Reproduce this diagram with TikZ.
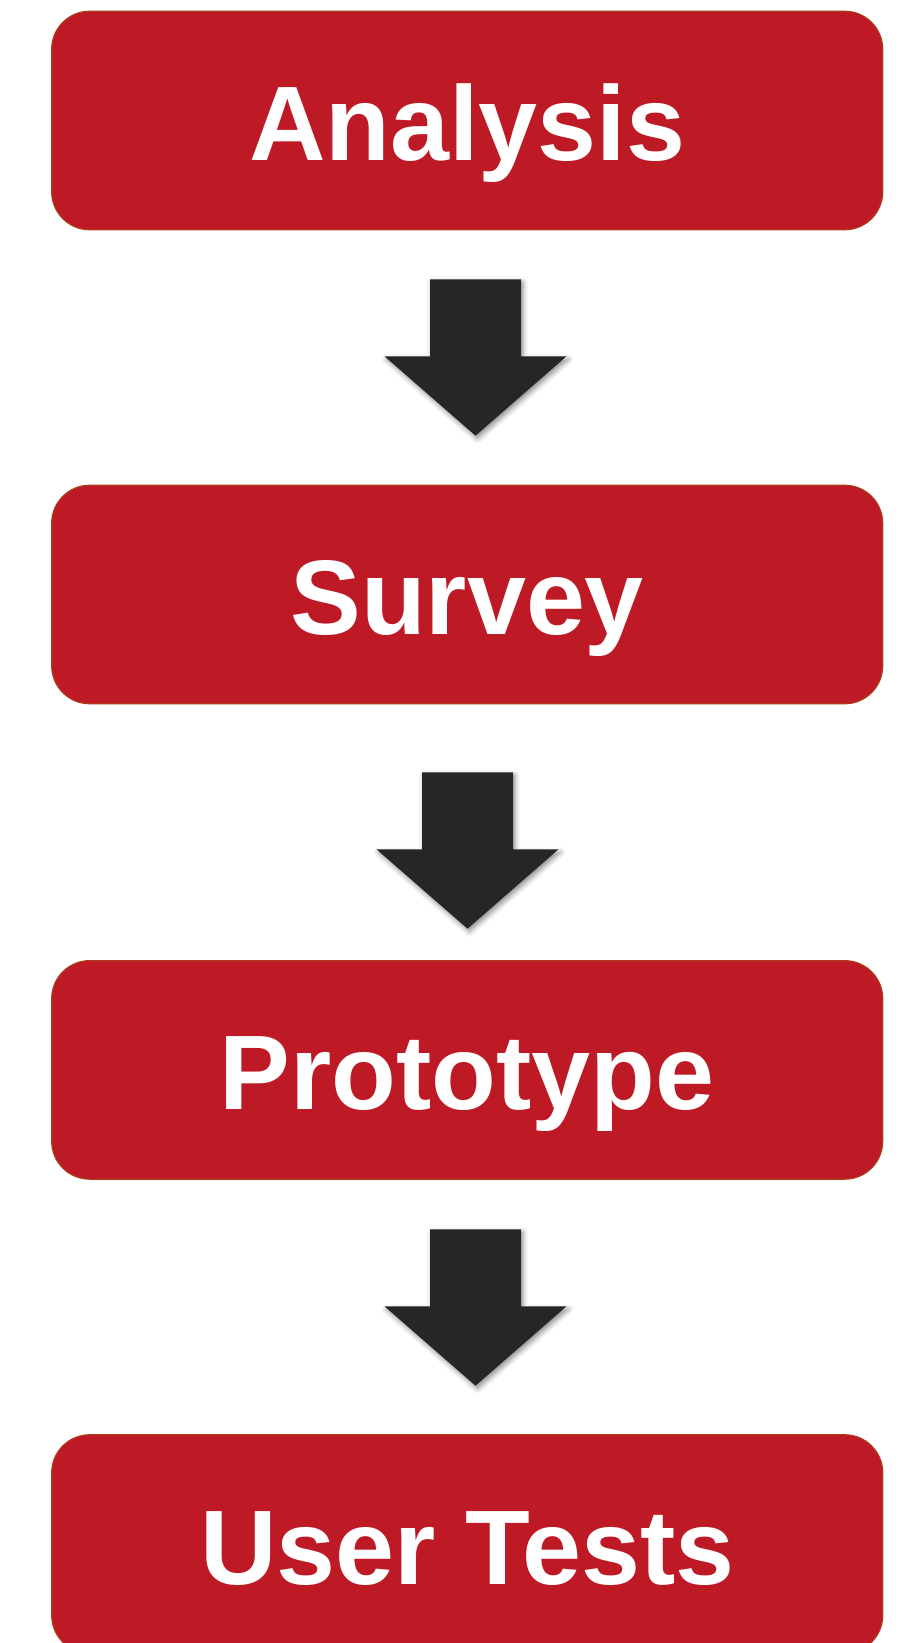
\documentclass[tikz,border=0pt]{standalone}
\usepackage{fontspec}
\setmainfont{Liberation Sans}
\usetikzlibrary{shadows.blur}
\definecolor{boxred}{RGB}{190,26,38}
\definecolor{boxedge}{RGB}{172,58,26}
\definecolor{arrowgray}{RGB}{38,38,38}
\begin{document}
\begin{tikzpicture}[x=1pt,y=-1pt,
  stagebox/.style={rectangle, rounded corners=38pt, fill=boxred, draw=boxedge,
    line width=1.2pt, minimum width=831pt, minimum height=218.5pt, inner sep=0pt,
    text=white, font=\fontsize{106}{118}\selectfont\bfseries,
    text height=80pt, text depth=0pt},
  blockarrow/.style={fill=arrowgray,
    blur shadow={shadow xshift=2pt, shadow yshift=-3pt,
      shadow blur radius=5pt, shadow opacity=45}},
  pics/downarrow/.style={code={
    \path[blockarrow] (-45.5,0) -- (45.5,0) -- (45.5,77) -- (91,77)
      -- (0,156.4) -- (-91,77) -- (-45.5,77) -- cycle;}}
]
\path[use as bounding box, clip] (0,0) rectangle (905,1643);

% process stages
\node[stagebox] (analysis)  at (467.2,120.5)  {Analysis};
\node[stagebox] (survey)    at (467.2,594.5)  {Survey};
\node[stagebox] (prototype) at (467.2,1069.9) {Prototype};
\node[stagebox] (usertests) at (467.2,1544)   {User Tests};

% block arrows between the stages
\pic (arrowone)   at (475.5,279.3)  {downarrow};
\pic (arrowtwo)   at (467.5,772.3)  {downarrow};
\pic (arrowthree) at (475.5,1229.3) {downarrow};
\end{tikzpicture}
\end{document}
